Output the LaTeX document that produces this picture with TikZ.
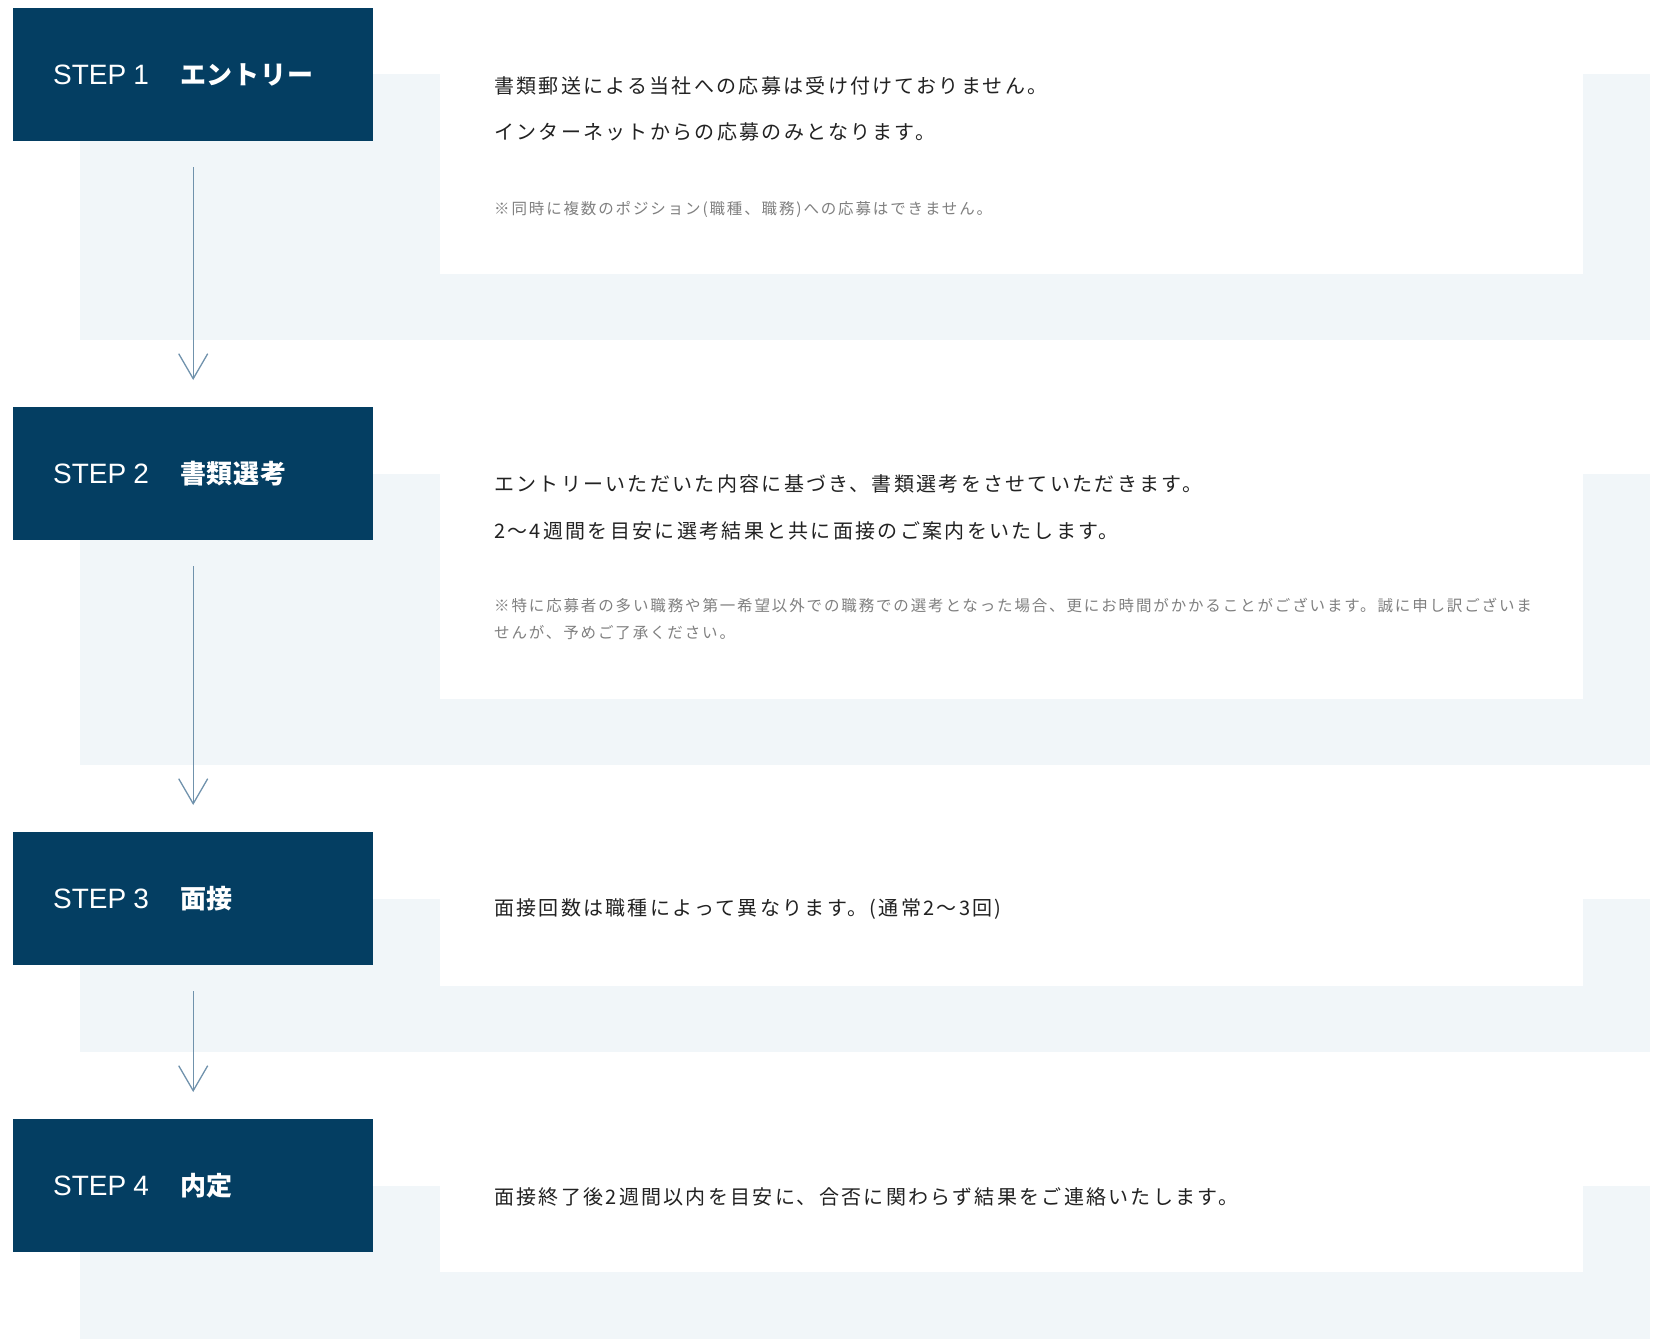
\documentclass[tikz,border=0pt]{standalone}
\usepackage{fontspec}
\setmainfont{Noto Sans CJK JP}
\newfontfamily\jpfont[LetterSpace=11.5]{Noto Sans CJK JP}
\newfontfamily\notefont[LetterSpace=12]{Noto Sans CJK JP}
\newfontfamily\titlefont[LetterSpace=3]{Noto Sans CJK JP}
\newfontfamily\stepfont{Liberation Sans}
\usepackage{tikz}
\usetikzlibrary{positioning,arrows.meta}
\definecolor{navy}{RGB}{4,62,98}
\definecolor{paleblue}{RGB}{241,246,249}
\definecolor{flowblue}{RGB}{112,146,172}
\definecolor{ink}{RGB}{34,34,34}
\definecolor{notegray}{RGB}{128,128,128}
\newcommand{\steptitle}[2]{\makebox[127pt][l]{\stepfont\fontsize{28}{30}\selectfont STEP\hspace{7pt}#1}{\titlefont\bfseries\fontsize{26}{30}\selectfont #2}}

\begin{document}
\begin{tikzpicture}[
    x=1pt, y=-1pt,
    stepbox/.style={rectangle, fill=navy, text=white, anchor=north west,
        minimum height=133pt, text width=280pt, inner xsep=40pt, inner ysep=0pt, align=left},
    panel/.style={fill=paleblue},
    card/.style={fill=white},
    bodytext/.style={anchor=west, inner sep=0pt, align=left, text=ink,
        font=\jpfont\fontsize{20}{46.5}\selectfont},
    notetext/.style={anchor=west, inner sep=0pt, align=left, text=notegray,
        font=\notefont\fontsize{15.5}{27}\selectfont},
    flow/.style={draw=flowblue, line width=1.3pt, shorten <=26pt, shorten >=27pt,
        -{Straight Barb[length=25pt, width=29pt, line width=1.3pt]}}
]
\useasboundingbox (0,0) rectangle (1654,1339);

% backgrounds
\fill[panel] (80,74) rectangle (1650,340);
\fill[card] (440,74) rectangle (1583,274);
\fill[panel] (80,474) rectangle (1650,765);
\fill[card] (440,474) rectangle (1583,699);
\fill[panel] (80,899) rectangle (1650,1052);
\fill[card] (440,899) rectangle (1583,986);
\fill[panel] (80,1186) rectangle (1650,1339);
\fill[card] (440,1186) rectangle (1583,1272);

% steps
\node (step1) [stepbox] at (13,8) {\steptitle{1}{エントリー}};
\node (step2) [stepbox] at (13,407) {\steptitle{2}{書類選考}};
\node (step3) [stepbox] at (13,832) {\steptitle{3}{面接}};
\node (step4) [stepbox] at (13,1119) {\steptitle{4}{内定}};

% texts
\node (body1) [bodytext] at (494,109) {書類郵送による当社への応募は受け付けておりません。\\インターネットからの応募のみとなります。};
\node (note1) [notetext] at (494,209) {※同時に複数のポジション(職種、職務)への応募はできません。};
\node (body2) [bodytext] at (494,507.5) {エントリーいただいた内容に基づき、書類選考をさせていただきます。\\2〜4週間を目安に選考結果と共に面接のご案内をいたします。};
\node (note2) [notetext] at (494,618.5) {※特に応募者の多い職務や第一希望以外での職務での選考となった場合、更にお時間がかかることがございます。誠に申し訳ございま\\せんが、予めご了承ください。};
\node (body3) [bodytext] at (494,909) {面接回数は職種によって異なります。(通常2〜3回)};
\node (body4) [bodytext] at (494,1197) {面接終了後2週間以内を目安に、合否に関わらず結果をご連絡いたします。};

% arrows
\draw[flow] (step1) -- (step2);
\draw[flow] (step2) -- (step3);
\draw[flow] (step3) -- (step4);

\end{tikzpicture}
\end{document}
